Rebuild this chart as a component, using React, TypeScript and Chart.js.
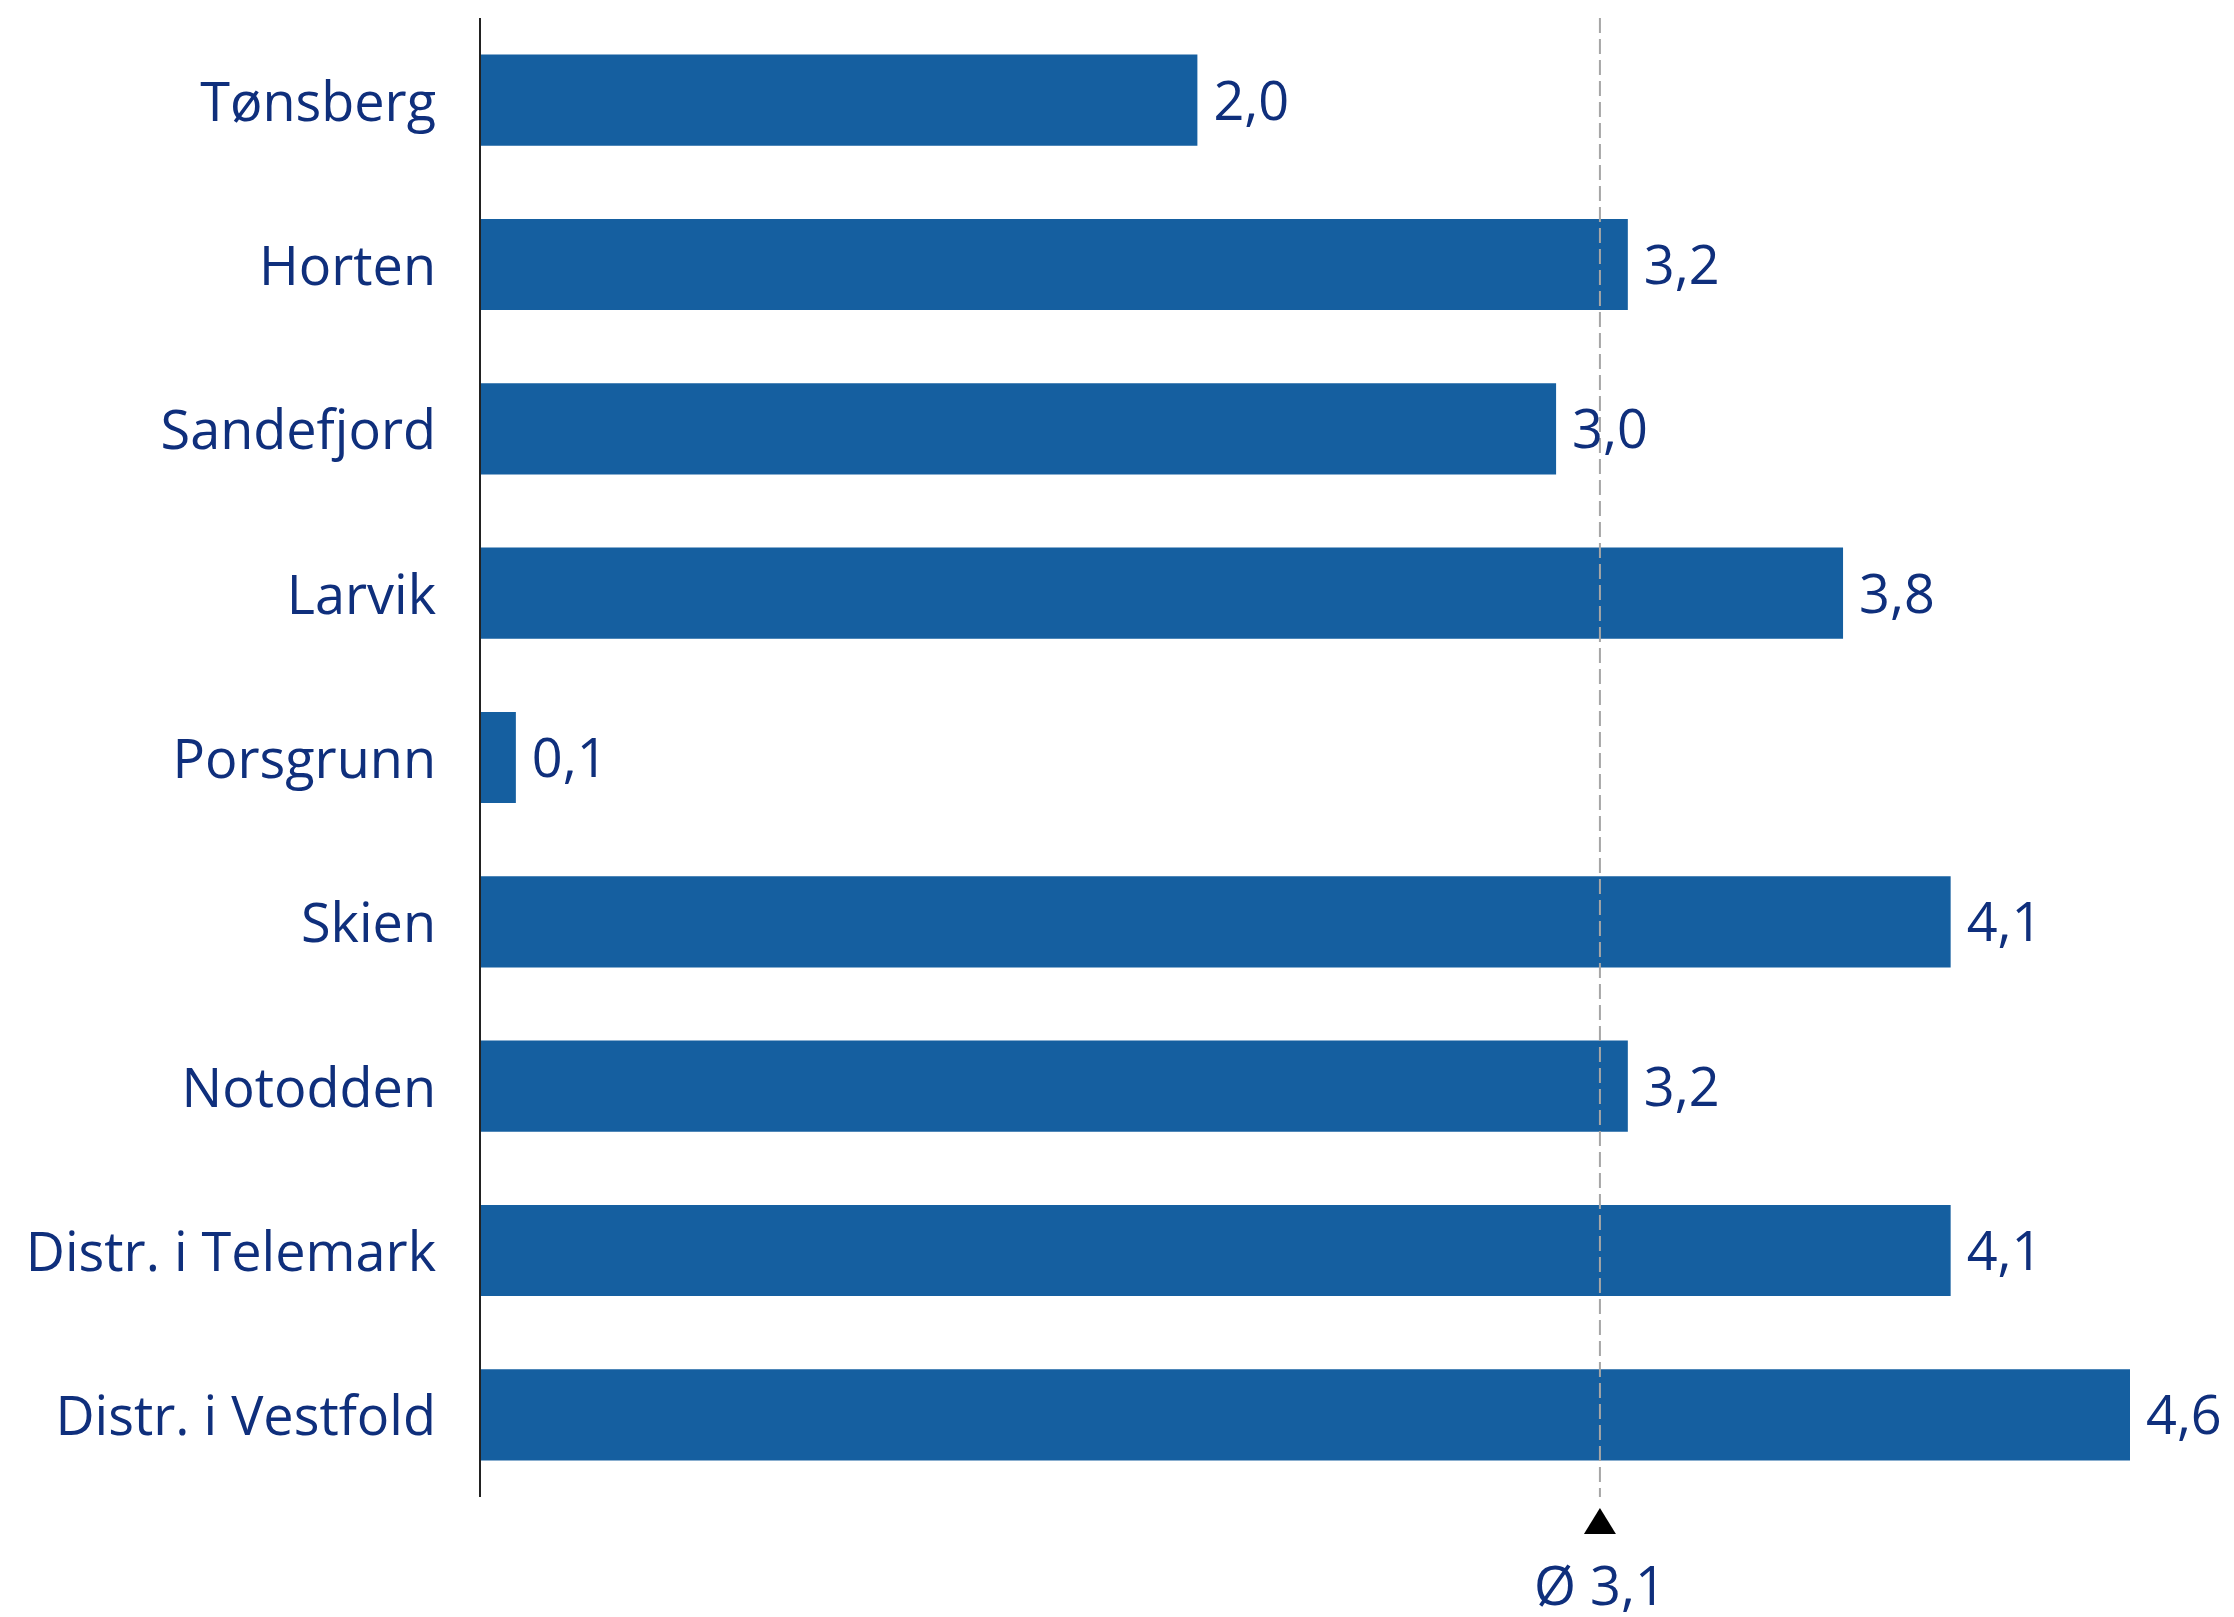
import React, { useEffect, useRef } from "react";
import { Chart, registerables } from "chart.js";

Chart.register(...registerables);

const categories = [
  "Tønsberg",
  "Horten",
  "Sandefjord",
  "Larvik",
  "Porsgrunn",
  "Skien",
  "Notodden",
  "Distr. i Telemark",
  "Distr. i Vestfold",
];
const values = [2.0, 3.2, 3.0, 3.8, 0.1, 4.1, 3.2, 4.1, 4.6];
const averageLabel = "Ø 3,1";

const BAR_COLOR = "#155FA0";
const TEXT_COLOR = "#0F2F7C";
const FONT_FAMILY = "'Open Sans', 'Noto Sans', sans-serif";
const FONT_SIZE = 54;

const fmt = (v: number) => v.toFixed(1).replace(".", ",");

const overlayPlugin = {
  id: "overlay",
  afterDatasetsDraw(chart: any) {
    const { ctx, chartArea } = chart;
    const xScale = chart.scales.x;
    const meta = chart.getDatasetMeta(0);
    ctx.save();
    // axis line
    ctx.strokeStyle = "#222222";
    ctx.lineWidth = 2;
    ctx.beginPath();
    ctx.moveTo(chartArea.left, chartArea.top);
    ctx.lineTo(chartArea.left, chartArea.bottom);
    ctx.stroke();

    // average dashed line
    const avg = values.reduce((a, b) => a + b, 0) / values.length;
    const ax = xScale.getPixelForValue(avg);
    ctx.strokeStyle = "#A6A6A6";
    ctx.lineWidth = 2;
    ctx.setLineDash([15, 6]);
    ctx.beginPath();
    ctx.moveTo(ax, chartArea.top);
    ctx.lineTo(ax, chartArea.bottom);
    ctx.stroke();
    ctx.setLineDash([]);

    // triangle marker
    ctx.fillStyle = "#000000";
    ctx.beginPath();
    ctx.moveTo(ax, chartArea.bottom + 11);
    ctx.lineTo(ax + 16, chartArea.bottom + 37);
    ctx.lineTo(ax - 16, chartArea.bottom + 37);
    ctx.closePath();
    ctx.fill();

    // average label
    ctx.font = `${FONT_SIZE}px ${FONT_FAMILY}`;
    ctx.fillStyle = TEXT_COLOR;
    ctx.textAlign = "center";
    ctx.textBaseline = "alphabetic";
    ctx.fillText(averageLabel, ax, chartArea.bottom + 108);

    // value labels
    ctx.textAlign = "left";
    ctx.textBaseline = "middle";
    meta.data.forEach((bar: any, i: number) => {
      ctx.fillText(fmt(values[i]), bar.x + 16, bar.y + 4);
    });
    ctx.restore();
  },
};

export default function App() {
  const canvasRef = useRef<HTMLCanvasElement | null>(null);

  useEffect(() => {
    const canvas = canvasRef.current;
    if (!canvas) return;
    const chart = new Chart(canvas, {
      type: "bar",
      data: {
        labels: categories,
        datasets: [
          {
            data: values,
            backgroundColor: BAR_COLOR,
            borderWidth: 0,
            categoryPercentage: 1,
            barPercentage: 0.555,
          },
        ],
      },
      options: {
        indexAxis: "y",
        responsive: false,
        maintainAspectRatio: false,
        animation: false,
        layout: { padding: { top: 18, bottom: 120, right: 104, left: 0 } },
        plugins: {
          legend: { display: false },
          tooltip: { enabled: false },
        },
        scales: {
          x: {
            display: false,
            min: 0,
            max: 4.6,
          },
          y: {
            afterFit: (scale: any) => {
              scale.width = 480;
              scale.paddingTop = 0;
              scale.paddingBottom = 0;
            },
            grid: { display: false },
            border: { display: false },
            ticks: {
              padding: 36,
              labelOffset: 5,
              color: TEXT_COLOR,
              font: { family: FONT_FAMILY, size: FONT_SIZE },
            },
          },
        },
      },
      plugins: [overlayPlugin],
    });
    return () => chart.destroy();
  }, []);

  return (
    <div style={{ position: "absolute", left: 0, top: 0, width: 2234, height: 1617, background: "#ffffff" }}>
      <canvas ref={canvasRef} width={2234} height={1617} style={{ width: 2234, height: 1617, display: "block" }} />
    </div>
  );
}
